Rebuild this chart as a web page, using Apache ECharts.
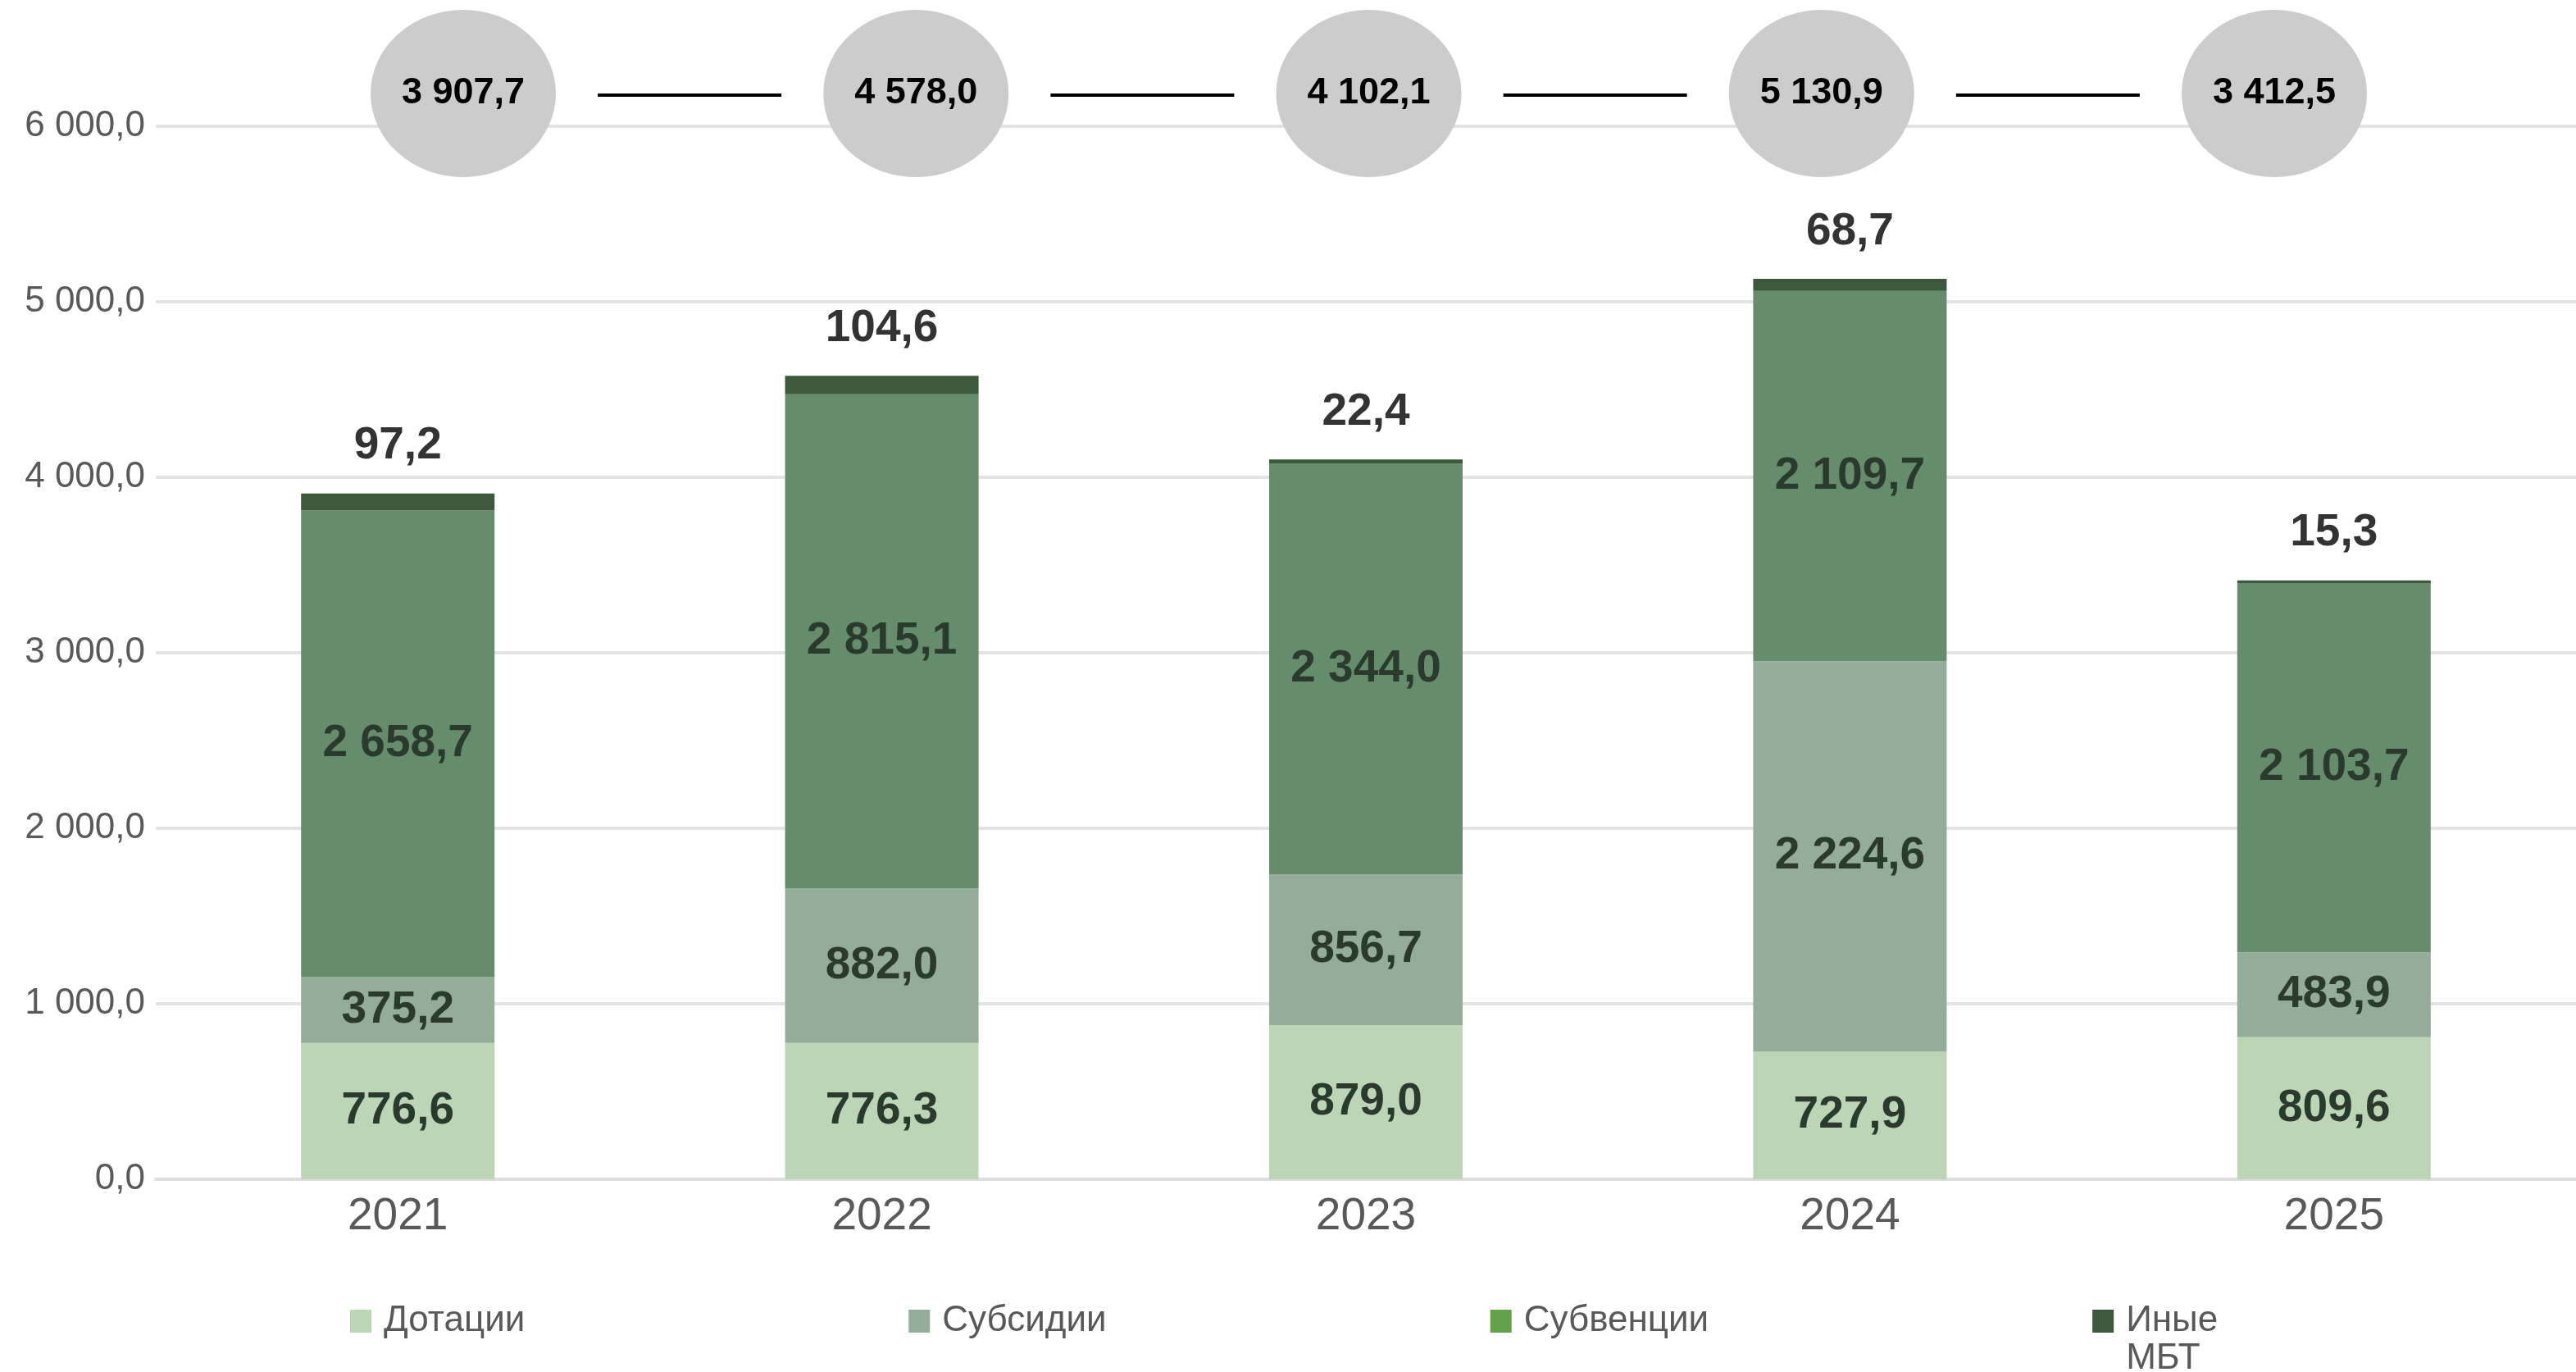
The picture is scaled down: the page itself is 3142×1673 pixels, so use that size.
<!DOCTYPE html>
<html><head><meta charset="utf-8">
<script src="https://cdn.jsdelivr.net/npm/echarts@6/dist/echarts.min.js"></script>
<style>html,body{margin:0;padding:0;background:#fff}#c{width:3142px;height:1673px}</style>
</head><body><div id="c"></div><script>
const years = ['2021', '2022', '2023', '2024', '2025'];
const dotacii = [776.6, 776.3, 879.0, 727.9, 809.6];
const subsidii = [375.2, 882.0, 856.7, 2224.6, 483.9];
const subvencii = [2658.7, 2815.1, 2344.0, 2109.7, 2103.7];
const inye = [97.2, 104.6, 22.4, 68.7, 15.3];
const totals = [3907.7, 4578.0, 4102.1, 5130.9, 3412.5];
const seriesNames = ['Дотации', 'Субсидии', 'Субвенции', 'Иные МБТ'];

function fmt(v) {
  const s = Number(v).toFixed(1);
  const parts = s.split('.');
  return parts[0].replace(/\B(?=(\d{3})+(?!\d))/g, ' ') + ',' + parts[1];
}

const FONT = "'Liberation Sans', Arial, sans-serif";
const barColors = ['#bbd5b5', '#93ad98', '#668d6b', '#3c593b'];
const legendColors = ['#bbd5b5', '#93ad98', '#62a248', '#3c593b'];

const insideLabel = {
  show: true, position: 'inside', color: '#2a3b2d', fontSize: 55, fontWeight: 'bold',
  fontFamily: FONT, formatter: p => fmt(p.value)
};

const chart = echarts.init(document.getElementById('c'), null, {renderer: 'canvas'});
chart.setOption({
  animation: false,
  backgroundColor: '#ffffff',
  textStyle: {fontFamily: FONT},
  grid: [
    {left: 190, right: 0, top: 154, bottom: 235},
    {left: 565, right: 368, top: 12, height: 204}
  ],
  xAxis: [
    {
      type: 'category', data: years, gridIndex: 0,
      axisLine: {show: true, lineStyle: {color: '#dedede', width: 4}},
      axisTick: {show: false},
      axisLabel: {fontSize: 55, color: '#595959', margin: 18, fontFamily: FONT}
    },
    {
      type: 'category', data: years, gridIndex: 1, boundaryGap: false,
      show: false
    }
  ],
  yAxis: [
    {
      type: 'value', min: 0, max: 6000, interval: 1000, gridIndex: 0,
      axisLine: {show: false}, axisTick: {show: false},
      splitLine: {lineStyle: {color: '#e3e3e3', width: 4}},
      axisLabel: {fontSize: 44, color: '#595959', margin: 13, fontFamily: FONT, formatter: fmt}
    },
    {type: 'value', min: 0, max: 2, gridIndex: 1, show: false, splitLine: {show: false}}
  ],
  legend: {
    left: 422, top: 1537, itemGap: 468, itemWidth: 26, itemHeight: 28, icon: 'rect',
    formatter: name => name === 'Иные МБТ' ? '\u00a0\nИные\nМБТ' : name,
    textStyle: {fontSize: 44, color: '#595959', lineHeight: 46, padding: [0, 0, 0, 10], fontFamily: FONT},
    data: [
      {name: seriesNames[0], itemStyle: {color: legendColors[0]}},
      {name: seriesNames[1], itemStyle: {color: legendColors[1]}},
      {name: seriesNames[2], itemStyle: {color: legendColors[2]}},
      {name: seriesNames[3], itemStyle: {color: legendColors[3]}}
    ]
  },
  series: [
    {name: seriesNames[0], type: 'bar', stack: 'total', barWidth: 236, data: dotacii,
     itemStyle: {color: barColors[0]}, label: insideLabel},
    {name: seriesNames[1], type: 'bar', stack: 'total', barWidth: 236, data: subsidii,
     itemStyle: {color: barColors[1]}, label: insideLabel},
    {name: seriesNames[2], type: 'bar', stack: 'total', barWidth: 236, data: subvencii,
     itemStyle: {color: barColors[2]}, label: insideLabel},
    {name: seriesNames[3], type: 'bar', stack: 'total', barWidth: 236, data: inye,
     itemStyle: {color: barColors[3]},
     label: {show: true, position: 'top', distance: 30, color: '#333333', fontSize: 55,
             fontWeight: 'bold', fontFamily: FONT, formatter: p => fmt(p.value)}},
    {
      name: 'connectors', type: 'custom', xAxisIndex: 1, yAxisIndex: 1, silent: true,
      data: totals.slice(0, -1).map((t, i) => [i, 1]),
      renderItem: function (params, api) {
        const i = api.value(0);
        const a = api.coord([i, 1]);
        const b = api.coord([i + 1, 1]);
        const mid = (a[0] + b[0]) / 2;
        return {type: 'line', shape: {x1: mid - 112, y1: a[1] + 2, x2: mid + 112, y2: a[1] + 2},
                style: {stroke: '#000000', lineWidth: 4}};
      },
      z: 1
    },
    {
      name: 'totals', type: 'scatter', xAxisIndex: 1, yAxisIndex: 1, silent: true,
      symbol: 'path://M0,50a50,50 0 1,0 100,0a50,50 0 1,0 -100,0z',
      symbolSize: [226, 204], clip: false,
      itemStyle: {color: '#cccccc', opacity: 1},
      data: totals.map((t, i) => [i, 1, t]),
      label: {show: true, position: 'inside', color: '#000000', fontSize: 45, fontWeight: 'bold',
              fontFamily: FONT, formatter: p => fmt(p.value[2])},
      z: 2
    }
  ]
});
</script></body></html>
